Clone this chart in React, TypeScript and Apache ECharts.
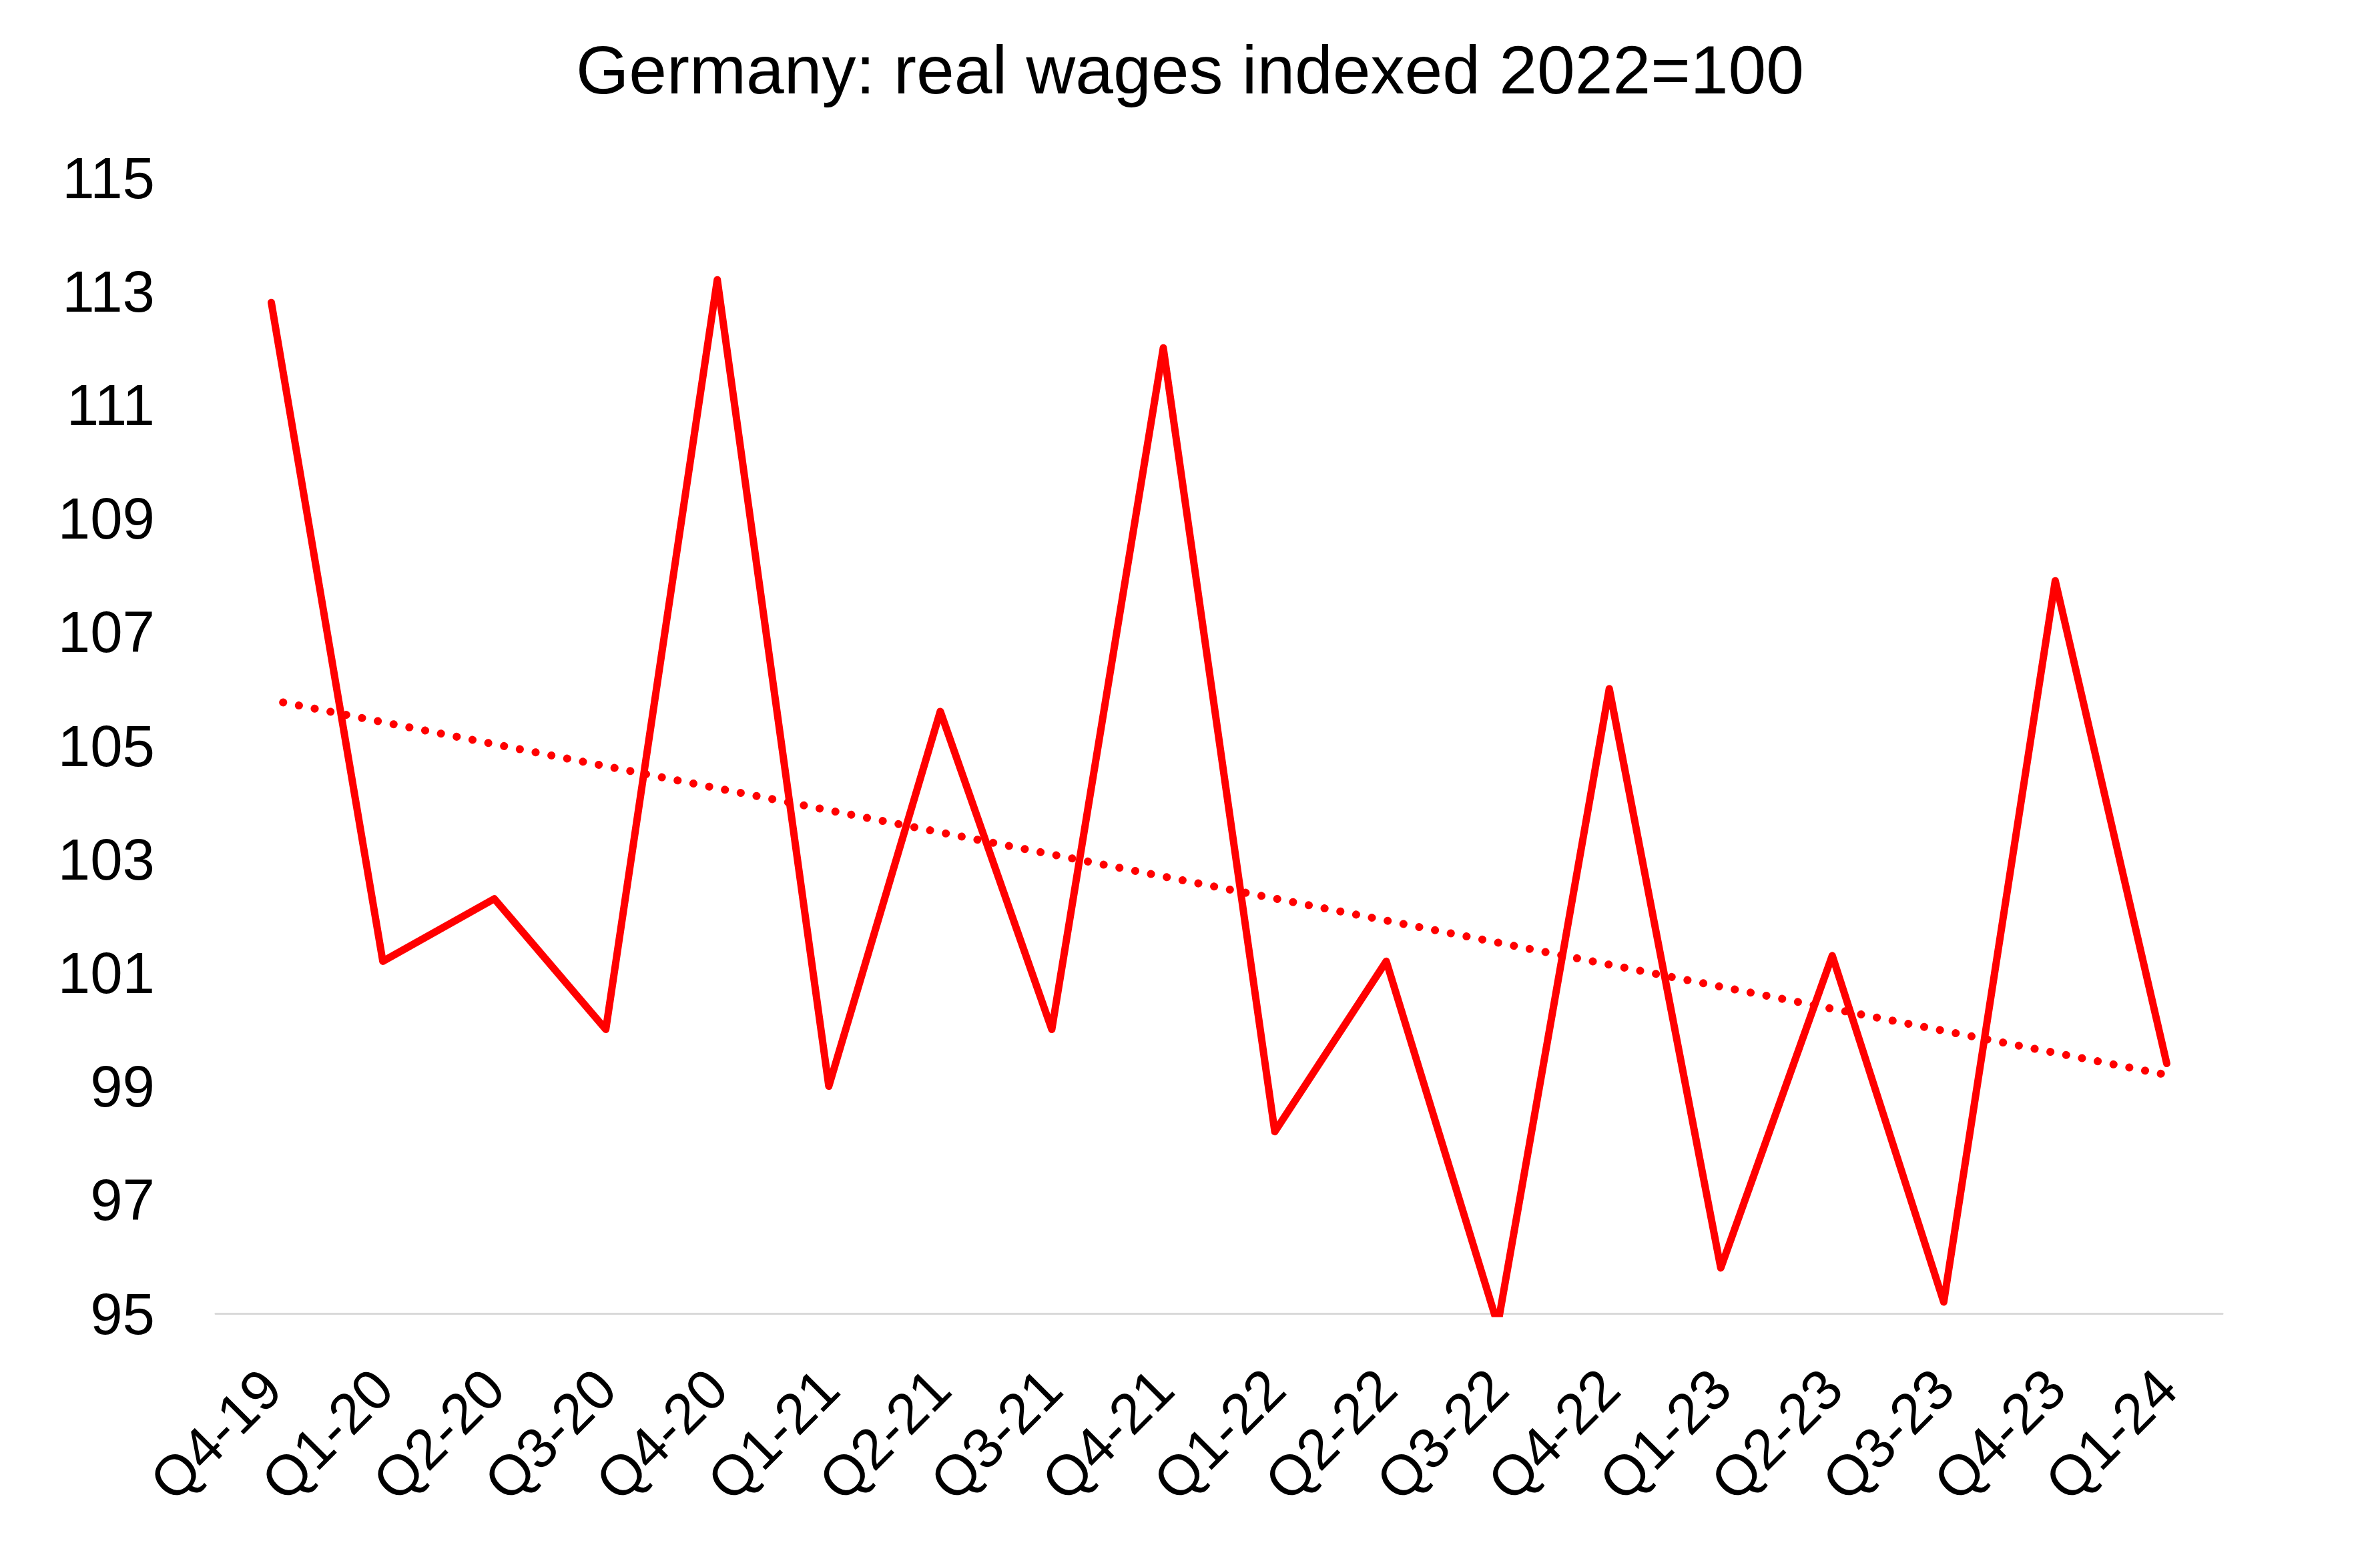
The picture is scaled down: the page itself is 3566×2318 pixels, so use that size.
import React, { useEffect, useRef } from "react";
import * as echarts from "echarts";

const TITLE = "Germany: real wages indexed 2022=100";

const categories: string[] = [
  "Q4-19", "Q1-20", "Q2-20", "Q3-20", "Q4-20", "Q1-21", "Q2-21", "Q3-21", "Q4-21",
  "Q1-22", "Q2-22", "Q3-22", "Q4-22", "Q1-23", "Q2-23", "Q3-23", "Q4-23", "Q1-24",
];

const realWages: number[] = [
  112.8, 101.2, 102.3, 100.0, 113.2, 99.0, 105.6, 100.0, 112.0,
  98.2, 101.2, 94.8, 106.0, 95.8, 101.3, 95.2, 107.9, 99.4,
];

// Linear trendline end values
const trendStart = 105.8;
const trendEnd = 99.2;

const yMin = 95;
const yMax = 115;
const yStep = 2;

export default function App() {
  const ref = useRef<HTMLDivElement | null>(null);

  useEffect(() => {
    document.body.style.margin = "0";
    if (!ref.current) return;
    const chart = echarts.init(ref.current, null, { renderer: "svg" });
    const last = categories.length - 1;
    const trendData = categories.map((_, i) =>
      i === 0 ? trendStart : i === last ? trendEnd : null
    );
    chart.setOption({
      animation: false,
      backgroundColor: "#ffffff",
      title: {
        text: TITLE,
        left: "center",
        top: 49,
        textStyle: {
          fontFamily: "Liberation Sans",
          fontSize: 102,
          fontWeight: "normal",
          color: "#000000",
        },
      },
      grid: { left: 323, right: 236, top: 266, bottom: 350, containLabel: false },
      xAxis: {
        type: "category",
        data: categories,
        boundaryGap: true,
        axisLine: { show: true, lineStyle: { color: "#d9d9d9", width: 3 } },
        axisTick: { show: false },
        splitLine: { show: false },
        axisLabel: {
          interval: 0,
          rotate: 45,
          margin: 98,
          fontFamily: "Liberation Sans",
          fontSize: 85,
          color: "#000000",
        },
      },
      yAxis: {
        type: "value",
        min: yMin,
        max: yMax,
        interval: yStep,
        axisLine: { show: false },
        axisTick: { show: false },
        splitLine: { show: false },
        axisLabel: {
          margin: 91,
          fontFamily: "Liberation Sans",
          fontSize: 87,
          color: "#000000",
        },
      },
      series: [
        {
          name: "Real wages",
          type: "line",
          data: realWages,
          symbol: "none",
          clip: true,
          lineStyle: { color: "#ff0000", width: 11, cap: "round", join: "round" },
          z: 2,
        },
        {
          name: "Linear trend",
          type: "line",
          data: trendData,
          connectNulls: true,
          symbol: "none",
          lineStyle: {
            color: "#ff0000",
            width: 12,
            type: [0.1, 24],
            dashOffset: -18,
            cap: "round",
          },
          z: 3,
        },
      ],
    });
    return () => chart.dispose();
  }, []);

  return <div ref={ref} style={{ width: 3566, height: 2318 }} />;
}
